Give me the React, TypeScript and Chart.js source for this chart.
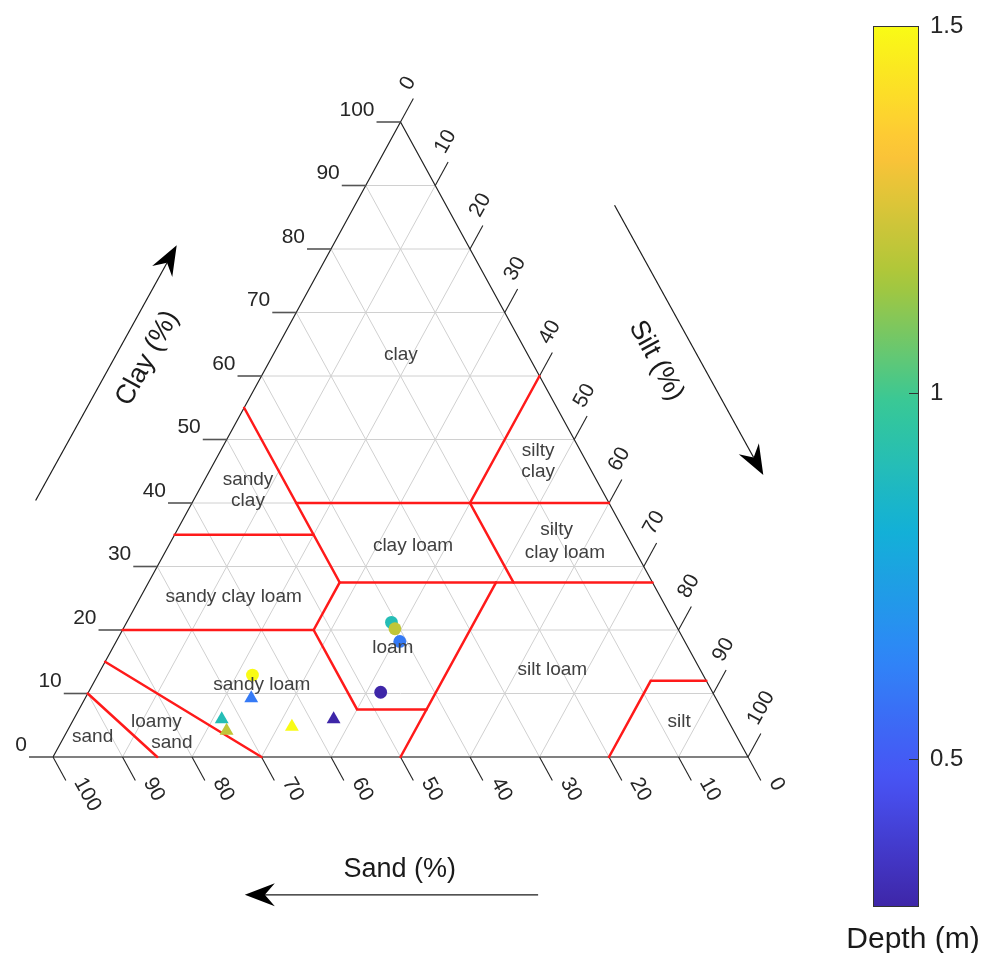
import React, { useEffect, useRef } from "react";
import { Chart, registerables } from "chart.js";
Chart.register(...registerables);

const FONT = '"Liberation Sans", Arial, Helvetica, sans-serif';

// Axis ticks (percent)
const TICKS = [0, 10, 20, 30, 40, 50, 60, 70, 80, 90, 100];
const GRID = [10, 20, 30, 40, 50, 60, 70, 80, 90];
const TICK_LABELS = TICKS.map(String);

// Samples (circles) – composition in %
const circleSand = [40.7, 40.7, 41.0, 64.85, 47.75];
const circleSilt = [38.1, 39.1, 40.8, 22.25, 42.05];
const circleClay = [21.2, 20.2, 18.2, 12.9, 10.2];
const circleDepth = [0.9, 1.2, 0.6, 1.5, 0.3];

// Samples (triangles)
const triSand = [66.85, 72.75, 72.95, 63.25, 56.65];
const triSilt = [23.9, 21.3, 22.9, 32.0, 37.4];
const triClay = [9.25, 5.95, 4.15, 4.75, 5.95];
const triDepth = [0.6, 0.9, 1.2, 1.5, 0.3];

// Colour bar
const CB_MIN = 0.3;
const CB_MAX = 1.5;
const CB_TICKS = [0.5, 1, 1.5];
const CB_LABELS = ["0.5", "1", "1.5"];

// USDA texture class boundaries as [clay, silt] polylines
const BOUNDARIES: number[][][] = [
  [[55, 0], [27.5, 27.5], [20, 27.5]],
  [[35, 0], [35, 20]],
  [[40, 15], [40, 60]],
  [[60, 40], [40, 40], [27.5, 52.5]],
  [[27.5, 27.5], [27.5, 72.5]],
  [[20, 0], [20, 27.5], [7.5, 40], [7.5, 50]],
  [[0, 50], [27.5, 50]],
  [[15, 0], [0, 30]],
  [[10, 0], [0, 15]],
  [[12, 88], [12, 80], [0, 80]],
];

// Texture class names with [clay, silt] anchor
const CLASS_NAMES = ["clay", "silty\nclay", "sandy\nclay", "clay loam", "silty", "clay loam", "sandy clay loam", "loam", "silt loam", "sandy loam", "silt", "loamy", "sand", "sand"];
const CLASS_CLAY = [63.3, 46.6, 42.0, 33.2, 35.75, 32.1, 25.2, 17.2, 13.7, 11.3, 5.56, 5.56, 2.2, 3.2];
const CLASS_SILT = [18.4, 46.5, 7.06, 35.2, 54.6, 57.6, 13.4, 40.3, 65.0, 24.4, 87.3, 12.1, 16.0, 4.1];

const PARULA = [
  [62, 38, 168], [72, 82, 244], [46, 135, 247], [18, 177, 214],
  [55, 200, 151], [171, 199, 57], [254, 195, 56], [249, 251, 21],
];
function parula(t: number) {
  t = Math.max(0, Math.min(1, t));
  const f = t * (PARULA.length - 1);
  const i = Math.min(PARULA.length - 2, Math.floor(f));
  const u = f - i;
  const a = PARULA[i], b = PARULA[i + 1];
  const c = a.map((v, k) => Math.round(v + (b[k] - v) * u));
  return `rgb(${c[0]},${c[1]},${c[2]})`;
}
const depthColor = (d: number) => parula((d - CB_MIN) / (CB_MAX - CB_MIN));

// ternary (clay, silt) -> cartesian data
const tx = (clay: number, silt: number) => silt + clay / 2;
const TL = 3.7; // tick length in clay units for silt/sand
const TLH = 3.45; // clay tick length (horizontal)

function line(pts: number[][], color: string, width: number, order: number, cap = "butt") {
  return {
    type: "scatter",
    data: pts.map(([x, y]) => ({ x, y })),
    showLine: true,
    borderColor: color,
    borderWidth: width,
    borderCapStyle: cap,
    pointRadius: 0,
    pointHoverRadius: 0,
    fill: false,
    tension: 0,
    clip: false,
    order,
  };
}

function buildDatasets() {
  const ds: any[] = [];
  GRID.forEach((k) => {
    ds.push(line([[k / 2, k], [100 - k / 2, k]], "#d0d0d0", 1, 5));
    ds.push(line([[k, 0], [k + (100 - k) / 2, 100 - k]], "#d0d0d0", 1, 5));
    ds.push(line([[100 - k, 0], [(100 - k) / 2, 100 - k]], "#d0d0d0", 1, 5));
  });
  BOUNDARIES.forEach((b) => {
    ds.push(line(b.map(([c, s]) => [tx(c, s), c]), "#ff1a1a", 2.5, 2, "round"));
  });
  TICKS.forEach((c) => ds.push(line([[c / 2, c], [c / 2 - TLH, c]], "#555555", 1.6, 3)));
  TICKS.forEach((s) => ds.push(line([[50 + s / 2, 100 - s], [50 + s / 2 + TL / 2, 100 - s + TL]], "#222222", 1.1, 3)));
  TICKS.forEach((a) => ds.push(line([[100 - a, 0], [100 - a + TL / 2, -TL]], "#222222", 1.1, 3)));
  ds.push(line([[0, 0], [50, 100], [100, 0]], "#222222", 1.2, 3));
  ds.push(line([[0, 0], [100, 0]], "#808080", 2, 3));
  ds.push({
    type: "scatter",
    data: circleClay.map((c, i) => ({ x: tx(c, circleSilt[i]), y: c })),
    pointStyle: "circle",
    pointRadius: 6.4,
    pointBackgroundColor: circleDepth.map(depthColor),
    pointBorderColor: circleDepth.map(depthColor),
    pointBorderWidth: 0,
    showLine: false,
    clip: false,
    order: 0,
  });
  ds.push({
    type: "scatter",
    data: triClay.map((c, i) => ({ x: tx(c, triSilt[i]), y: c })),
    pointStyle: "triangle",
    pointRadius: 8,
    pointBackgroundColor: triDepth.map(depthColor),
    pointBorderColor: triDepth.map(depthColor),
    pointBorderWidth: 0,
    showLine: false,
    clip: false,
    order: 0,
  });
  return ds;
}

function drawArrow(ctx: CanvasRenderingContext2D, x0: number, y0: number, x1: number, y1: number) {
  const dx = x1 - x0, dy = y1 - y0;
  const len = Math.hypot(dx, dy);
  const ux = dx / len, uy = dy / len;
  const px = -uy, py = ux;
  const L = 30, W = 11.5, N = 10;
  ctx.strokeStyle = "#1a1a1a";
  ctx.lineWidth = 1.2;
  ctx.beginPath();
  ctx.moveTo(x0, y0);
  ctx.lineTo(x1 - ux * (L - N), y1 - uy * (L - N));
  ctx.stroke();
  ctx.fillStyle = "#000";
  ctx.beginPath();
  ctx.moveTo(x1, y1);
  ctx.lineTo(x1 - ux * L + px * W, y1 - uy * L + py * W);
  ctx.lineTo(x1 - ux * (L - N), y1 - uy * (L - N));
  ctx.lineTo(x1 - ux * L - px * W, y1 - uy * L - py * W);
  ctx.closePath();
  ctx.fill();
}

const ternaryText = {
  id: "ternaryText",
  afterDraw(chart: any) {
    const ctx: CanvasRenderingContext2D = chart.ctx;
    const xs = chart.scales.x, ys = chart.scales.y;
    const P = (x: number, y: number) => [xs.getPixelForValue(x), ys.getPixelForValue(y)];
    ctx.save();
    ctx.fillStyle = "#262626";
    ctx.font = `21px ${FONT}`;
    // clay labels
    ctx.textAlign = "right";
    ctx.textBaseline = "middle";
    TICKS.forEach((c, i) => {
      const [px, py] = P(c / 2 - TLH, c);
      ctx.fillText(TICK_LABELS[i], px - 2, py - 12);
    });
    // silt labels
    TICKS.forEach((s, i) => {
      const [ax, ay] = P(50 + s / 2, 100 - s);
      const [bx, by] = P(50 + s / 2 + TL / 2, 100 - s + TL);
      const ang = Math.atan2(by - ay, bx - ax);
      ctx.save();
      ctx.translate(bx, by);
      ctx.rotate(ang);
      ctx.textAlign = "left";
      ctx.fillText(TICK_LABELS[i], 5, -12);
      ctx.restore();
    });
    // sand labels
    TICKS.forEach((a, i) => {
      const [ax, ay] = P(100 - a, 0);
      const [bx, by] = P(100 - a + TL / 2, -TL);
      const ang = Math.atan2(by - ay, bx - ax);
      ctx.save();
      ctx.translate(bx, by);
      ctx.rotate(ang);
      ctx.textAlign = "left";
      ctx.fillText(TICK_LABELS[i], 5, -12);
      ctx.restore();
    });
    // class names
    ctx.fillStyle = "#404040";
    ctx.font = `19px ${FONT}`;
    ctx.textAlign = "center";
    CLASS_NAMES.forEach((name, i) => {
      const [px, py] = P(tx(CLASS_CLAY[i], CLASS_SILT[i]), CLASS_CLAY[i]);
      const lines = name.split("\n");
      const lh = 21.5;
      lines.forEach((t, j) => {
        ctx.fillText(t, px, py + (j - (lines.length - 1) / 2) * lh);
      });
    });
    // arrows
    const arrows = [
      [-2.5, 40.4, 17.8, 80.6],
      [80.8, 86.9, 102.2, 44.4],
      [69.8, -21.7, 27.6, -21.7],
    ];
    arrows.forEach(([a, b, c, d]) => {
      const [x0, y0] = P(a, b);
      const [x1, y1] = P(c, d);
      drawArrow(ctx, x0, y0, x1, y1);
    });
    // axis titles
    ctx.fillStyle = "#1a1a1a";
    ctx.font = `27px ${FONT}`;
    const titles: [string, number, number, number][] = [
      ["Sand (%)", 49.9, -17.8, 0],
      ["Clay (%)", 13.6, 62.8, -1],
      ["Silt (%)", 86.8, 62.4, 1],
    ];
    const [lx0, ly0] = P(0, 0);
    const [lx1, ly1] = P(50, 100);
    const edgeAng = Math.atan2(ly0 - ly1, lx0 - lx1) + Math.PI; // up-right
    titles.forEach(([t, x, y, r]) => {
      const [px, py] = P(x, y);
      ctx.save();
      ctx.translate(px, py);
      if (r < 0) ctx.rotate(edgeAng);
      if (r > 0) ctx.rotate(-edgeAng);
      ctx.textAlign = "center";
      ctx.textBaseline = "middle";
      ctx.fillText(t, 0, 0);
      ctx.restore();
    });
    ctx.restore();
  },
};

const colorbarDecor = {
  id: "colorbarDecor",
  afterDraw(chart: any) {
    const ctx: CanvasRenderingContext2D = chart.ctx;
    const ca = chart.chartArea;
    const ys = chart.scales.y;
    ctx.save();
    ctx.strokeStyle = "#333";
    ctx.lineWidth = 1;
    CB_TICKS.forEach((v) => {
      const y = Math.round(ys.getPixelForValue(v)) + 0.5;
      ctx.beginPath();
      ctx.moveTo(ca.right - 9, y);
      ctx.lineTo(ca.right, y);
      ctx.stroke();
    });
    ctx.strokeRect(Math.round(ca.left) + 0.5, Math.round(ca.top) + 0.5, Math.round(ca.right - ca.left), Math.round(ca.bottom - ca.top));
    ctx.fillStyle = "#1a1a1a";
    ctx.font = `30px ${FONT}`;
    ctx.textAlign = "center";
    ctx.textBaseline = "middle";
    ctx.fillText("Depth (m)", chart.width / 2, ca.bottom + 34);
    ctx.restore();
  },
};

export default function App() {
  const mainRef = useRef<HTMLCanvasElement>(null);
  const barRef = useRef<HTMLCanvasElement>(null);
  useEffect(() => {
    const main = new Chart(mainRef.current as HTMLCanvasElement, {
      type: "scatter",
      data: { datasets: buildDatasets() },
      options: {
        animation: false,
        responsive: false,
        events: [],
        layout: { padding: { left: 53, right: 238, top: 122, bottom: 196 } },
        scales: {
          x: { type: "linear", min: 0, max: 100, display: false },
          y: { type: "linear", min: 0, max: 100, display: false },
        },
        plugins: { legend: { display: false }, tooltip: { enabled: false } },
      } as any,
      plugins: [ternaryText],
    } as any);

    const bar = new Chart(barRef.current as HTMLCanvasElement, {
      type: "bar",
      data: {
        labels: [""],
        datasets: [
          {
            data: [[CB_MIN, CB_MAX]],
            barPercentage: 1,
            categoryPercentage: 1,
            borderWidth: 0,
            backgroundColor: (context: any) => {
              const { chart } = context;
              const ca = chart.chartArea;
              if (!ca) return "#888";
              const g = chart.ctx.createLinearGradient(0, ca.bottom, 0, ca.top);
              for (let i = 0; i <= 40; i++) g.addColorStop(i / 40, parula(i / 40));
              return g;
            },
          },
        ],
      },
      options: {
        animation: false,
        responsive: false,
        events: [],
        layout: { padding: { left: 33, right: 0, top: 22, bottom: 47 } },
        scales: {
          x: { display: false },
          y: {
            position: "right",
            min: CB_MIN,
            max: CB_MAX,
            afterFit: (s: any) => { s.width = 68; },
            afterBuildTicks: (s: any) => { s.ticks = CB_TICKS.map((v) => ({ value: v })); },
            grid: { display: false, drawTicks: false },
            border: { display: false },
            ticks: {
              padding: 12,
              color: "#262626",
              font: { family: FONT, size: 24 },
              callback: (v: number) => CB_LABELS[CB_TICKS.indexOf(v)] ?? String(v),
            },
          },
        },
        plugins: { legend: { display: false }, tooltip: { enabled: false } },
      } as any,
      plugins: [colorbarDecor],
    } as any);

    return () => {
      main.destroy();
      bar.destroy();
    };
  }, []);
  return (
    <div style={{ position: "absolute", left: 0, top: 0, width: 986, height: 953, background: "#fff" }}>
      <canvas ref={mainRef} width={986} height={953} style={{ position: "absolute", left: 0, top: 0 }} />
      <canvas ref={barRef} width={146} height={953} style={{ position: "absolute", left: 840, top: 0 }} />
    </div>
  );
}
